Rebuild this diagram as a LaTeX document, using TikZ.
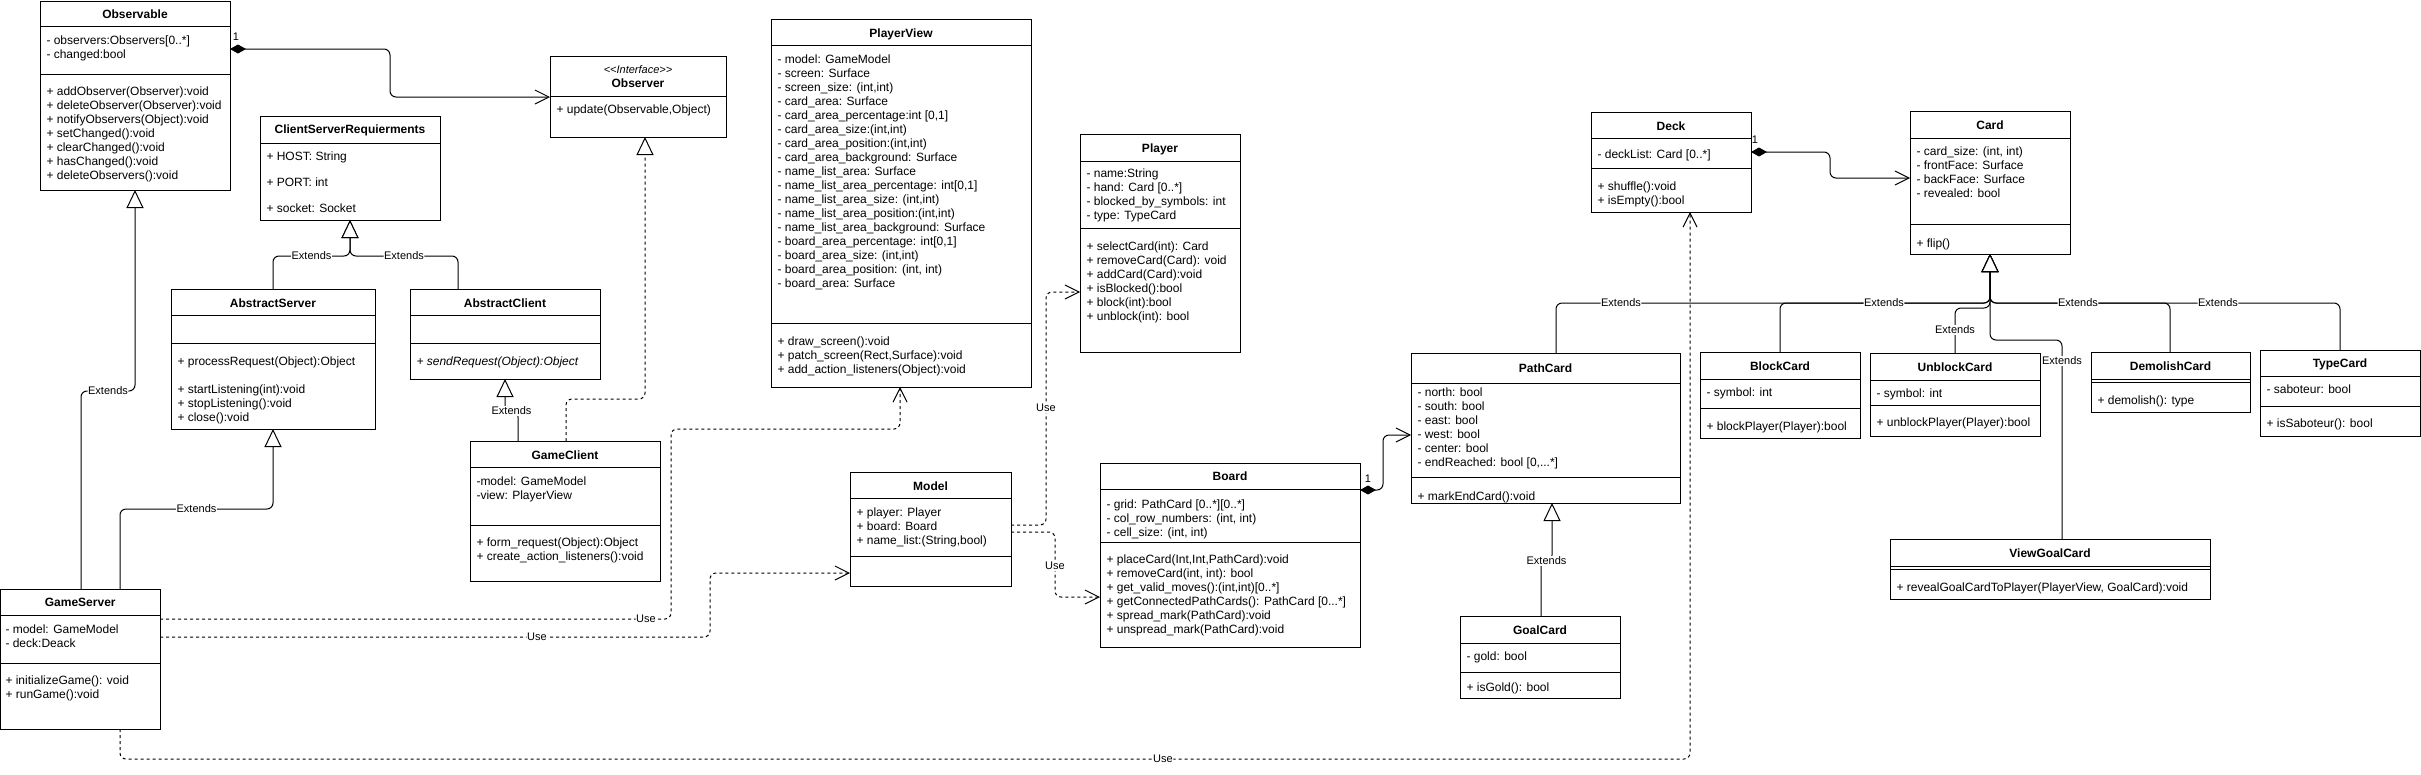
\documentclass[tikz,border=0pt]{standalone}
\usepackage{fontspec}
\setmainfont{Liberation Sans}
\usetikzlibrary{arrows.meta}
\tikzset{
  classbox/.style={draw, line width=1pt, inner sep=0pt, outer sep=0pt, fill=white},
  ctitle/.style={font=\fontsize{12}{14}\selectfont\bfseries, inner sep=0pt, text height=8.6pt, text depth=0pt},
  stereo/.style={font=\fontsize{11}{13}\selectfont\itshape, inner sep=0pt, text height=8pt, text depth=0pt},
  body/.style={anchor=north west, inner sep=0pt, align=left, font=\fontsize{12}{14}\selectfont},
  lbl/.style={fill=white, inner sep=0.6pt, font=\fontsize{11}{13}\selectfont, text height=8pt, text depth=0.5pt},
  mult/.style={inner sep=0pt, font=\fontsize{11}{13}\selectfont},
  divider/.style={line width=1pt},
  ext/.style={-{Triangle[length=18pt,width=17pt,fill=white]}, rounded corners=6pt},
  real/.style={ext, dash pattern=on 3pt off 3pt},
  usearrow/.style={dash pattern=on 3pt off 3pt, -{Straight Barb[length=14pt,width=14pt]}, rounded corners=6pt},
  comp/.style={{Diamond[length=16pt,width=9pt]}-{Straight Barb[length=14pt,width=14pt]}, rounded corners=6pt},
}
\newcommand\umlclass[8]{%
  \node[classbox, minimum width=#4pt-#2pt, minimum height=#5pt-#3pt, anchor=north west] (#1) at (#2,#3) {};
  \node[ctitle] (#1-t) at ({(#2+#4)/2},#6) {#7};
  \foreach \dv in {#8} {\draw[divider] (#2,\dv) -- (#4,\dv);}
}
\newcommand\cbody[4]{\node[body] (#1) at (#2,{#3-5.8}) {\strut #4};}
\begin{document}
\begin{tikzpicture}[x=1pt, y=-1pt, line width=1pt]
\fill[white] (0,0) rectangle (2421,774);
\useasboundingbox (0,0) rectangle (2421,774);

% ---------- classes ----------
\umlclass{observable}{40}{1}{230}{190}{14}{Observable}{26,74}
\cbody{observable-a}{46}{40}{- observers:Observers[0..*]\\- changed:bool}
\cbody{observable-m}{46}{91}{+ addObserver(Observer):void\\+ deleteObserver(Observer):void\\+ notifyObservers(Object):void\\+ setChanged():void\\+ clearChanged():void\\+ hasChanged():void\\+ deleteObservers():void}

\umlclass{observer}{550}{56}{726}{137}{83}{Observer}{96}
\node[stereo] (observer-s) at (638,69) {<{}<Interface>{}>};
\cbody{observer-m}{556}{109}{+ update(Observable,Object)}

\umlclass{csr}{260}{116}{440}{220}{129}{ClientServerRequierments}{143}
\cbody{csr-a}{266}{156}{+ HOST: String\\[12pt]+ PORT: int\\[12pt]+ socket: Socket}

\umlclass{aserver}{171}{289}{375}{429}{303}{AbstractServer}{315,343}
\cbody{aserver-m}{177}{361}{+ processRequest(Object):Object\\[14pt]+ startListening(int):void\\+ stopListening():void\\+ close():void}

\umlclass{aclient}{410}{289}{600}{379}{303}{AbstractClient}{315,343}
\cbody{aclient-m}{416}{361}{\itshape + sendRequest(Object):Object}

\umlclass{gserver}{0.5}{589}{160}{729}{602}{GameServer}{615,663}
\cbody{gserver-a}{5}{629}{- model: GameModel\\- deck:Deack}
\cbody{gserver-m}{5}{680}{+ initializeGame(): void\\+ runGame():void}

\umlclass{gclient}{470}{441}{660}{581}{455}{GameClient}{467,525}
\cbody{gclient-a}{476}{481}{-model: GameModel\\-view: PlayerView}
\cbody{gclient-m}{476}{542}{+ form\_request(Object):Object\\+ create\_action\_listeners():void}

\umlclass{pview}{771}{19}{1031}{387}{33}{PlayerView}{45,323}
\cbody{pview-a}{777}{59}{- model: GameModel\\- screen: Surface\\- screen\_size: (int,int)\\- card\_area: Surface\\- card\_area\_percentage:int [0,1]\\- card\_area\_size:(int,int)\\- card\_area\_position:(int,int)\\- card\_area\_background: Surface\\- name\_list\_area: Surface\\- name\_list\_area\_percentage: int[0,1]\\- name\_list\_area\_size: (int,int)\\- name\_list\_area\_position:(int,int)\\- name\_list\_area\_background: Surface\\- board\_area\_percentage: int[0,1]\\- board\_area\_size: (int,int)\\- board\_area\_position: (int, int)\\- board\_area: Surface}
\cbody{pview-m}{777}{341}{+ draw\_screen():void\\+ patch\_screen(Rect,Surface):void\\+ add\_action\_listeners(Object):void}

\umlclass{player}{1080}{134}{1240}{352}{148}{Player}{161,228}
\cbody{player-a}{1086}{173}{- name:String\\- hand: Card [0..*]\\- blocked\_by\_symbols: int\\- type: TypeCard}
\cbody{player-m}{1086}{246}{+ selectCard(int): Card\\+ removeCard(Card): void\\+ addCard(Card):void\\+ isBlocked():bool\\+ block(int):bool\\+ unblock(int): bool}

\umlclass{model}{850}{472}{1011}{586}{486}{Model}{498,556}
\cbody{model-a}{856}{512}{+ player: Player\\+ board: Board\\+ name\_list:(String,bool)}

\umlclass{board}{1100}{463}{1360}{647}{476}{Board}{489,542}
\cbody{board-a}{1106}{504}{- grid: PathCard [0..*][0..*]\\- col\_row\_numbers: (int, int)\\- cell\_size: (int, int)}
\cbody{board-m}{1106}{559}{+ placeCard(Int,Int,PathCard):void\\+ removeCard(int, int): bool\\+ get\_valid\_moves():(int,int)[0..*]\\+ getConnectedPathCards(): PathCard [0...*]\\+ spread\_mark(PathCard):void\\+ unspread\_mark(PathCard):void}

\umlclass{pathcard}{1411}{353}{1680}{503}{368}{PathCard}{383,477}
\cbody{pathcard-a}{1417}{392}{- north: bool\\- south: bool\\- east: bool\\- west: bool\\- center: bool\\- endReached: bool [0,...*]}
\cbody{pathcard-m}{1417}{496}{+ markEndCard():void}

\umlclass{goalcard}{1460}{616}{1620}{698}{630}{GoalCard}{643,672}
\cbody{goalcard-a}{1466}{656}{- gold: bool}
\cbody{goalcard-m}{1466}{687}{+ isGold(): bool}

\umlclass{deck}{1591}{112}{1751}{212}{126}{Deck}{138,168}
\cbody{deck-a}{1597}{154}{- deckList: Card [0..*]}
\cbody{deck-m}{1597}{186}{+ shuffle():void\\+ isEmpty():bool}

\umlclass{card}{1910}{111}{2070}{254}{125}{Card}{138,224}
\cbody{card-a}{1916}{151}{- card\_size: (int, int)\\- frontFace: Surface\\- backFace: Surface\\- revealed: bool}
\cbody{card-m}{1916}{243}{+ flip()}

\umlclass{blockcard}{1700}{352}{1860}{438}{366}{BlockCard}{379,408}
\cbody{blockcard-a}{1706}{392}{- symbol: int}
\cbody{blockcard-m}{1706}{426}{+ blockPlayer(Player):bool}

\umlclass{unblockcard}{1870}{353}{2040}{436}{367}{UnblockCard}{380,405}
\cbody{unblockcard-a}{1876}{393}{- symbol: int}
\cbody{unblockcard-m}{1876}{422}{+ unblockPlayer(Player):bool}

\umlclass{demolishcard}{2091}{352}{2250}{412}{366}{DemolishCard}{379,382}
\cbody{demolishcard-m}{2097}{400}{+ demolish(): type}

\umlclass{typecard}{2260}{350}{2420}{436}{363}{TypeCard}{376,406}
\cbody{typecard-a}{2266}{389}{- saboteur: bool}
\cbody{typecard-m}{2266}{423}{+ isSaboteur(): bool}

\umlclass{viewgoalcard}{1890}{539}{2210}{599}{553}{ViewGoalCard}{566,569}
\cbody{viewgoalcard-m}{1896}{587}{+ revealGoalCardToPlayer(PlayerView, GoalCard):void}

% ---------- connectors ----------
\draw[comp] (observable.east |- 0,49) -- (390,49) -- (390,97) -- (observer.west |- 0,97);
\node[mult] (m1) at (236,37) {1};

\draw[ext] (gserver.north -| 81,0) -- (81,391) -- node[lbl] (l1) {Extends} (135,391) -- (observable.south -| 135,0);
\draw[ext] (gserver.north -| 120,0) -- (120,509) -- node[lbl] (l2) {Extends} (273,509) -- (aserver.south -| 273,0);
\draw[ext] (aserver.north -| 273,0) -- (273,256) -- node[lbl] (l3) {Extends} (350,256) -- (csr.south -| 350,0);
\draw[ext] (aclient.north -| 458,0) -- (458,256) -- node[lbl] (l4) {Extends} (350,256) -- (csr.south -| 350,0);
\draw[ext] (gclient.north -| 518,0) -- (518,411) -- node[lbl] (l5) {Extends} (505,411) -- (aclient.south -| 505,0);
\draw[real] (gclient.north -| 566,0) -- (566,399) -- (645,399) -- (observer.south -| 645,0);

\draw[usearrow] (gserver.east |- 0,619) -- (646,619) node[lbl] (u1) {Use} -- (671,619) -- (671,429) -- (900,429) -- (pview.south -| 900,0);
\draw[usearrow] (gserver.east |- 0,637) -- (537,637) node[lbl] (u2) {Use} -- (710,637) -- (710,573) -- (model.west |- 0,573);
\draw[usearrow] (gserver.south -| 120,0) -- (120,759) -- (1163,759) node[lbl] (u3) {Use} -- (1690,759) -- (deck.south -| 1690,0);
\draw[usearrow] (model.east |- 0,525) -- (1046,525) -- (1046,408) node[lbl] (u4) {Use} -- (1046,292) -- (player.west |- 0,292);
\draw[usearrow] (model.east |- 0,532) -- (1055,532) -- (1055,566) node[lbl] (u5) {Use} -- (1055,597) -- (board.west |- 0,597);

\draw[comp] (board.east |- 0,490) -- (1383,490) -- (1383,435) -- (pathcard.west |- 0,435);
\node[mult] (m2) at (1368,479) {1};
\draw[comp] (deck.east |- 0,152) -- (1830,152) -- (1830,178) -- (card.west |- 0,178);
\node[mult] (m3) at (1755,140) {1};

\draw[ext] (goalcard.north -| 1541,0) -- (1541,561) -- node[lbl] (l6) {Extends} (1552,561) -- (pathcard.south -| 1552,0);

\draw[ext] (pathcard.north -| 1556,0) -- (1556,303) -- (1621,303) node[lbl] (l7) {Extends} -- (1990,303) -- (card.south -| 1990,0);
\draw[ext] (blockcard.north -| 1780,0) -- (1780,303) -- (1884,303) node[lbl] (l8) {Extends} -- (1990,303) -- (card.south -| 1990,0);
\draw[ext] (typecard.north -| 2340,0) -- (2340,303) -- (2218,303) node[lbl] (l9) {Extends} -- (1990,303) -- (card.south -| 1990,0);
\draw[ext] (demolishcard.north -| 2170,0) -- (2170,303) -- (2078,303) node[lbl] (l10) {Extends} -- (1990,303) -- (card.south -| 1990,0);
\draw[ext] (unblockcard.north -| 1955,0) -- (1955,330) node[lbl] (l11) {Extends} -- (1955,308) -- (1990,308) -- (card.south -| 1990,0);
\draw[ext] (viewgoalcard.north -| 2062,0) -- (2062,361) node[lbl] (l12) {Extends} -- (2062,340) -- (1990,340) -- (card.south -| 1990,0);
\end{tikzpicture}
\end{document}
